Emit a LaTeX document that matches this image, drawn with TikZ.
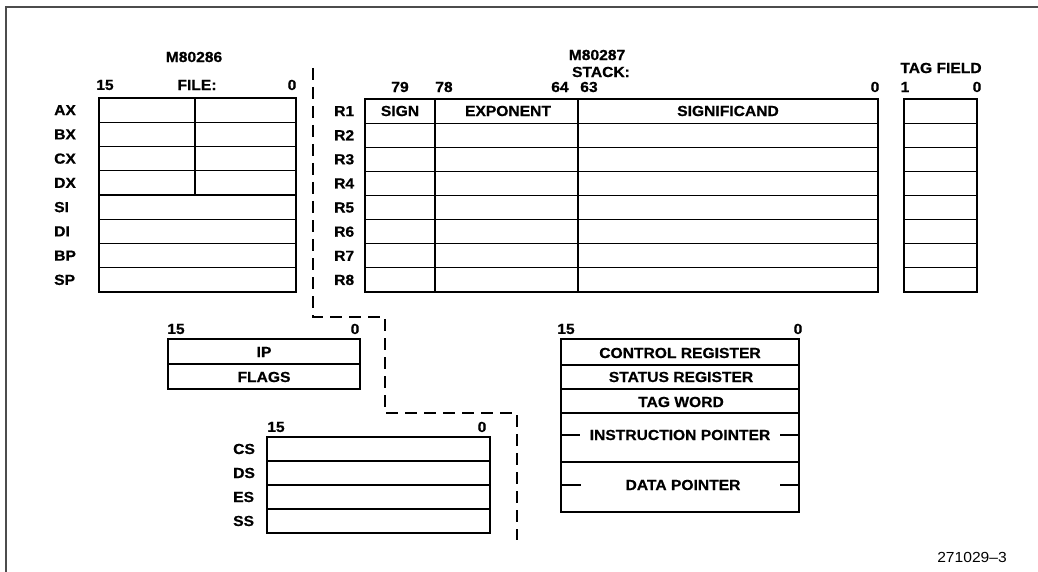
\documentclass[tikz,border=0pt]{standalone}
\usepackage{fontspec}
\setmainfont{Liberation Sans}[FakeStretch=1.07, BoldFeatures={FakeBold=0.6}]
\begin{document}
\begin{tikzpicture}[x=1pt,y=-1pt,
  thickbox/.style={line width=2.8pt,line join=miter},
  thinline/.style={line width=1.2pt},
  lbl/.style={inner sep=0pt,font=\fontsize{14.6}{15}\selectfont\bfseries},
  rlbl/.style={lbl,anchor=west},
  frame/.style={line width=1.6pt,draw=black!70},
  sep/.style={line width=1.5pt,dash pattern=on 12pt off 7pt}]
\useasboundingbox (0,0) rectangle (1038,572);
% partial frame
\draw[frame] (6,572) -- (6,7) -- (1038,7);

% ---------- M80286 register file ----------
\node[lbl] (t286) at (194,57) {M80286};
\node[lbl] (f15) at (105,85) {15};
\node[lbl] (ffile) at (197,85) {FILE:};
\node[lbl] (f0) at (292,85) {0};
\foreach \i in {1,...,7} \draw[thinline] (99,{98+24.25*\i}) -- (296,{98+24.25*\i});
\draw[thinline] (195,98) -- (195,195);
\draw[thickbox] (99,98) rectangle (296,292);
\foreach \n [count=\i from 0] in {AX,BX,CX,DX,SI,DI,BP,SP}
  \node[rlbl] (r\n) at (54,{98+24.25*(\i+0.5)}) {\n};

% ---------- dashed separator ----------
\coordinate (d0) at (313,68);
\coordinate (d1) at (313,317);
\coordinate (d2) at (385,317);
\coordinate (d3) at (385,413);
\coordinate (d4) at (517,413);
\coordinate (d5) at (517,540);
\draw[sep] (d0) -- (d1) -- (d2) -- (d3) -- (d4) -- (d5);

% ---------- M80287 stack ----------
\node[lbl] (t287) at (597,55) {M80287};
\node[lbl] (tstack) at (601,72) {STACK:};
\node[lbl] (b79) at (400,87) {79};
\node[lbl] (b78) at (444,87) {78};
\node[lbl] (b64) at (560,87) {64};
\node[lbl] (b63) at (589,87) {63};
\node[lbl] (b0) at (875,87) {0};
\foreach \i in {1,...,7} \draw[thinline] (365,{99+24.125*\i}) -- (878,{99+24.125*\i});
\draw[thinline] (435,99) -- (435,292);
\draw[thinline] (578,99) -- (578,292);
\draw[thickbox] (365,99) rectangle (878,292);
\node[lbl] (sign) at (400,111) {SIGN};
\node[lbl] (expo) at (508,111) {EXPONENT};
\node[lbl] (sigf) at (728,111) {SIGNIFICAND};
\foreach \i in {1,...,8}
  \node[rlbl] (R\i) at (334,{99+24.125*(\i-0.5)}) {R\i};

% ---------- tag field ----------
\node[lbl] (ttag) at (941,68) {TAG FIELD};
\node[lbl] (tg1) at (905,87) {1};
\node[lbl] (tg0) at (977,87) {0};
\foreach \i in {1,...,7} \draw[thinline] (904,{99+24.125*\i}) -- (977,{99+24.125*\i});
\draw[thickbox] (904,99) rectangle (977,292);

% ---------- IP / FLAGS ----------
\node[lbl] (i15) at (176,329) {15};
\node[lbl] (i0) at (355,329) {0};
\draw[thinline] (168,364) -- (360,364);
\draw[thickbox] (168,339) rectangle (360,389);
\node[lbl] (ip) at (264,352) {IP};
\node[lbl] (flags) at (264,377) {FLAGS};

% ---------- segment registers ----------
\node[lbl] (s15) at (276,427) {15};
\node[lbl] (s0) at (482,427) {0};
\foreach \yy in {461,485,509} \draw[thinline] (267,\yy) -- (490,\yy);
\draw[thickbox] (267,437) rectangle (490,533);
\foreach \n [count=\i from 0] in {CS,DS,ES,SS}
  \node[rlbl] (s\n) at (233,{437+24*(\i+0.5)}) {\n};

% ---------- control registers ----------
\node[lbl] (c15) at (566,329) {15};
\node[lbl] (c0) at (798,329) {0};
\foreach \yy in {365,389,413,462} \draw[thinline] (561,\yy) -- (799,\yy);
\draw[thickbox] (561,339) rectangle (799,512);
\node[lbl] (ctrl) at (680,353) {CONTROL REGISTER};
\node[lbl] (stat) at (681,377) {STATUS REGISTER};
\node[lbl] (tagw) at (681,402) {TAG WORD};
\node[lbl] (instp) at (680,435) {INSTRUCTION POINTER};
\node[lbl] (datap) at (683,485) {DATA POINTER};
\draw[thinline] (561,435) -- (580,435);
\draw[thinline] (780,435) -- (799,435);
\draw[thinline] (561,485) -- (581,485);
\draw[thinline] (780,485) -- (799,485);

% ---------- figure number ----------
\node[inner sep=0pt,font=\fontsize{14.6}{15}\selectfont] (fig) at (972,557) {271029--3};
\end{tikzpicture}
\end{document}
